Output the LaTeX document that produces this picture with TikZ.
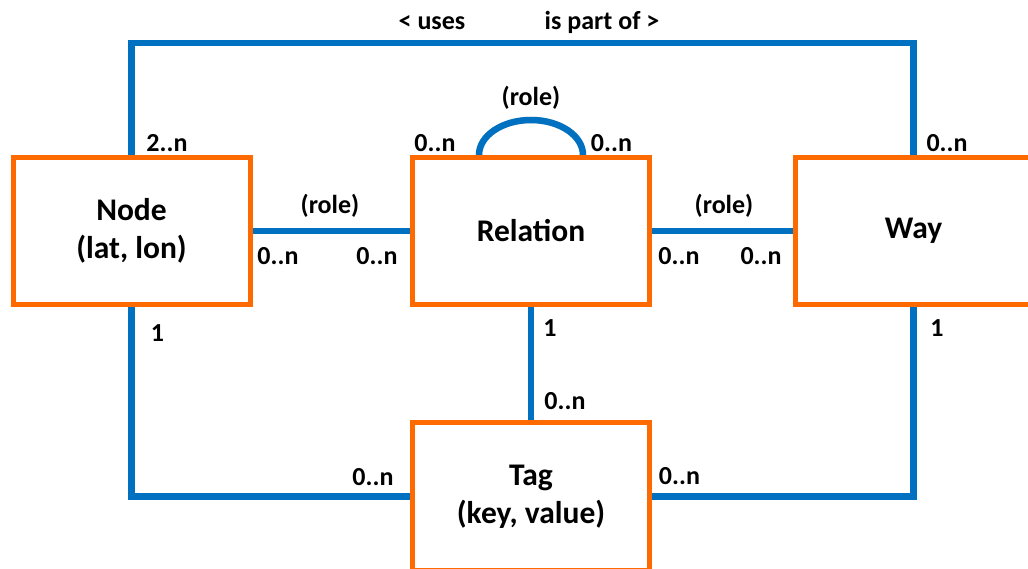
\documentclass[tikz,border=0pt]{standalone}
\usepackage{fontspec}
\setmainfont{Carlito}
\definecolor{linkblue}{HTML}{0070C0}
\definecolor{boxorange}{HTML}{FF6A00}
\pgfdeclarelayer{links}
\pgfsetlayers{links,main}
\tikzset{
  entity/.style={draw=boxorange, line width=5pt, fill=white, rectangle,
    minimum width=237pt, minimum height=147pt, inner sep=0pt, align=center,
    font=\fontsize{31.5}{38}\selectfont\bfseries},
  link/.style={draw=linkblue, line width=6.5pt, line join=miter},
  linkshadow/.style={draw=black, opacity=0.12, line width=6.5pt, shift={(1.5pt,-1.5pt)}},
  lbl/.style={inner sep=0pt, anchor=base, font=\fontsize{26}{30}\selectfont\bfseries}
}
\begin{document}
\begin{tikzpicture}[x=1pt, y=1pt]
  \useasboundingbox (0,0) rectangle (1028,568);
  \clip (0,0) rectangle (1028,568);

  % entities
  \node[entity] (osmnode) at (131.5,337) {Node\\(lat, lon)};
  \node[entity] (relation) at (531,337) {Relation};
  \node[entity] (way) at (913.5,337) {Way};
  \node[entity] (tag) at (531,71.5) {Tag\\(key, value)};

  \coordinate (topline) at (0,525);
  \coordinate (bottomline) at (0,71.5);

  % connectors, behind the boxes
  \begin{pgfonlayer}{links}
    \fill[white] (0,0) rectangle (1028,568);
    \foreach \sty in {linkshadow,link} {
      \draw[\sty] (osmnode.north) -- (osmnode.north |- topline)
                  -- (way.north |- topline) -- (way.north);
      \draw[\sty] (osmnode.east) -- (relation.west);
      \draw[\sty] (relation.east) -- (way.west);
      \draw[\sty] ([xshift=-52pt]relation.north)
                  arc[start angle=180, end angle=0, x radius=52pt, y radius=35pt];
      \draw[\sty] (relation.south) -- (tag.north);
      \draw[\sty] (osmnode.south) -- (osmnode.south |- bottomline) -- (tag.west);
      \draw[\sty] (way.south) -- (way.south |- bottomline) -- (tag.east);
    }
  \end{pgfonlayer}

  % role and multiplicity labels
  \node[lbl] (uses) at (432,538.5) {< uses};
  \node[lbl] (partof) at (602,538.5) {is part of >};
  \node[lbl] (rolerr) at (531,462) {(role)};
  \node[lbl] (rolenr) at (330,354) {(role)};
  \node[lbl] (rolerw) at (724,354) {(role)};

  \node[lbl] (m1) at (167,416) {2..n};
  \node[lbl] (m2) at (435,416) {0..n};
  \node[lbl] (m3) at (611.5,416) {0..n};
  \node[lbl] (m4) at (947,416) {0..n};

  \node[lbl] (m5) at (278,303) {0..n};
  \node[lbl] (m6) at (377,303) {0..n};
  \node[lbl] (m7) at (679,303) {0..n};
  \node[lbl] (m8) at (761,303) {0..n};

  \node[lbl] (m9) at (157.5,226) {1};
  \node[lbl] (m10) at (550,231) {1};
  \node[lbl] (m11) at (937,231) {1};

  \node[lbl] (m12) at (565,158) {0..n};
  \node[lbl] (m13) at (373,83) {0..n};
  \node[lbl] (m14) at (679.5,84) {0..n};
\end{tikzpicture}
\end{document}
